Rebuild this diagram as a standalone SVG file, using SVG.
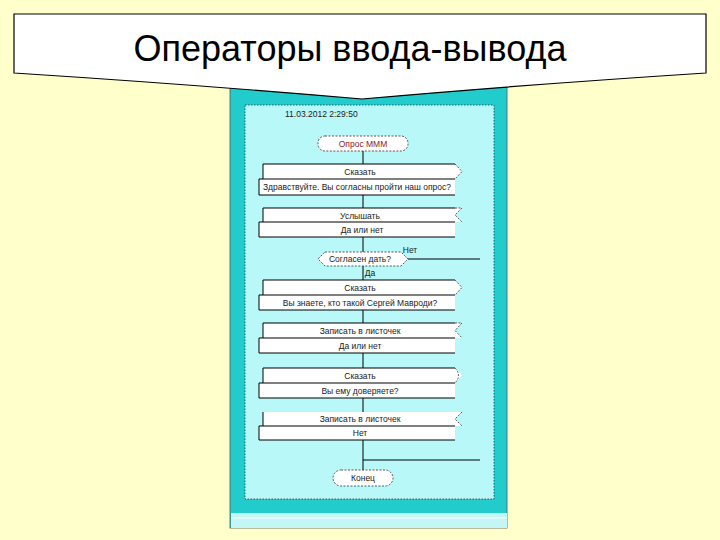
<svg xmlns="http://www.w3.org/2000/svg" width="720" height="540" viewBox="0 0 720 540">
<defs>
<style>
.t{font-family:"Liberation Sans",Arial,sans-serif;font-size:8.5px;fill:#222;text-anchor:middle}
.ln{fill:none;stroke:#000;stroke-width:1}
.box{fill:#fff;stroke:none}
.dsh{fill:#fff;stroke:#333;stroke-width:0.8;stroke-dasharray:2,1.5}
</style>
</defs>
<rect width="720" height="540" fill="#FFFFCC"/>
<g id="panel">
<rect x="230" y="80" width="277" height="448" fill="#22CCCC" stroke="#555" stroke-width="0.8"/>
<rect x="231" y="513" width="276" height="15" fill="#C4F6F6"/>
<line x1="231" y1="518" x2="507" y2="518" stroke="#E8FFFF" stroke-width="1.5"/>
<rect x="245" y="105" width="249" height="394" fill="#B8F8F8" stroke="#333" stroke-width="0.8" stroke-dasharray="1.5,1.5"/>
<text class="t" x="285" y="117" style="text-anchor:start">11.03.2012 2:29:50</text>
</g>
<g id="connectors">
<line class="ln" x1="363" y1="151" x2="363" y2="470"/>
<line class="ln" x1="408" y1="259" x2="480" y2="259"/>
<line class="ln" x1="363" y1="460" x2="480" y2="460"/>
<text class="t" x="410" y="253">Нет</text>
<text class="t" x="370" y="276">Да</text>
</g>
<g id="start">
<rect class="dsh" x="318" y="136" width="90" height="15" rx="7"/>
<text class="t" x="363" y="146.5" style="fill:#8B1A1A">Опрос МММ</text>
</g>
<g id="say1">
<path class="box" d="M263,164 H455 L462,171.5 L455,179 H263 Z"/>
<path class="ln" d="M263,179 V164 H455"/>
<path d="M455,164 L462,171.5 L455,179" fill="none" stroke="#333" stroke-width="0.8" stroke-dasharray="2,1.5"/>
<rect class="box" x="259" y="179" width="196" height="16"/>
<path class="ln" d="M455,179 H259 V195 H455"/>
<text class="t" x="360" y="175">Сказать</text>
<text class="t" x="357" y="190">Здравствуйте. Вы согласны пройти наш опрос?</text>
</g>
<g id="hear1">
<path class="box" d="M263,208 H462 L455,215 L462,222 H263 Z"/>
<path class="ln" d="M263,222 V208 H455"/>
<path d="M455,208 H462 L455,215 L462,222" fill="none" stroke="#333" stroke-width="0.8" stroke-dasharray="2,1.5"/>
<rect class="box" x="259" y="222" width="196" height="15"/>
<path class="ln" d="M455,222 H259 V237 H455"/>
<text class="t" x="360" y="218.5">Услышать</text>
<text class="t" x="362" y="233">Да или нет</text>
</g>
<g id="decision">
<path class="dsh" d="M325,252 H401 L408,259 L401,266 H325 L318,259 Z"/>
<text class="t" x="360" y="262">Согласен дать?</text>
</g>
<g id="say2">
<path class="box" d="M263,280 H455 L462,287.5 L455,295 H263 Z"/>
<path class="ln" d="M263,295 V280 H455"/>
<path d="M455,280 L462,287.5 L455,295" fill="none" stroke="#333" stroke-width="0.8" stroke-dasharray="2,1.5"/>
<rect class="box" x="259" y="295" width="196" height="15"/>
<path class="ln" d="M455,295 H259 V310 H455"/>
<text class="t" x="360" y="291">Сказать</text>
<text class="t" x="360" y="305.5">Вы знаете, кто такой Сергей Мавроди?</text>
</g>
<g id="write1">
<path class="box" d="M263,323 H462 L455,330.5 L462,338 H263 Z"/>
<path class="ln" d="M263,338 V323 H455"/>
<path d="M455,323 H462 L455,330.5 L462,338" fill="none" stroke="#333" stroke-width="0.8" stroke-dasharray="2,1.5"/>
<rect class="box" x="259" y="338" width="196" height="15"/>
<path class="ln" d="M455,338 H259 V353 H455"/>
<text class="t" x="360" y="334">Записать в листочек</text>
<text class="t" x="360" y="348.5">Да или нет</text>
</g>
<g id="say3">
<path class="box" d="M263,368 H455 L462,375.5 L455,383 H263 Z"/>
<path class="ln" d="M263,383 V368 H455"/>
<path d="M455,368 Q462,375.5 455,383" fill="none" stroke="#333" stroke-width="0.8" stroke-dasharray="2,1.5"/>
<rect class="box" x="259" y="383" width="196" height="15"/>
<path class="ln" d="M455,383 H259 V398 H455"/>
<text class="t" x="360" y="379">Сказать</text>
<text class="t" x="360" y="393.5">Вы ему доверяете?</text>
</g>
<g id="write2">
<path class="box" d="M263,412 H462 L455,419 L462,426 H263 Z"/>
<path class="ln" d="M263,426 V412"/>
<path d="M462,412 L455,419 L462,426" fill="none" stroke="#333" stroke-width="0.8" stroke-dasharray="2,1.5"/>
<rect class="box" x="259" y="426" width="196" height="14"/>
<path class="ln" d="M455,426 H259 V440 H455"/>
<text class="t" x="360" y="422">Записать в листочек</text>
<text class="t" x="360" y="436">Нет</text>
</g>
<g id="end">
<rect class="dsh" x="333" y="470" width="60" height="16" rx="8"/>
<text class="t" x="363" y="481">Конец</text>
</g>
<g id="banner">
<path d="M14,14 H706 V73 Q520,85 362,99 Q200,85 14,73 Z" fill="#fff" stroke="#000" stroke-width="1.2"/>
<text x="350" y="61" textLength="433" lengthAdjust="spacingAndGlyphs" style="font-family:'Liberation Sans',Arial,sans-serif;font-size:36px;fill:#000;text-anchor:middle">Операторы ввода-вывода</text>
</g>
</svg>
